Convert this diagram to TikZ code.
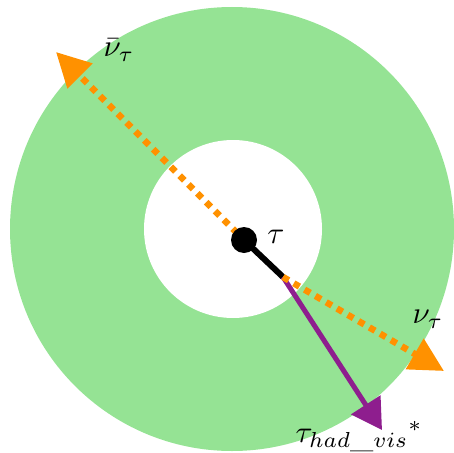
\documentclass[tikz,border=0pt]{standalone}
\usetikzlibrary{arrows.meta}
\definecolor{ringgreen}{RGB}{149,227,148}
\definecolor{nuorange}{RGB}{255,145,0}
\definecolor{vispurple}{RGB}{142,30,142}
\tikzset{
  nuline/.style={nuorange,line width=6.5pt,dash pattern=on 6.5pt off 6pt,
    -{Triangle[length=34pt,width=34pt,sep=0pt]}},
  visline/.style={vispurple,line width=5pt,-{Triangle[length=30pt,width=34pt]}},
  tauline/.style={black,line width=6pt},
  lbl/.style={scale=3.1,inner sep=0pt}
}
\begin{document}
\begin{tikzpicture}[x=1pt,y=-1pt]
\useasboundingbox (0,0) rectangle (454,452);
% ring and hole
\fill[ringgreen] (232,229) circle (222);
\fill[white] (233,229) circle (89);
% vertex and ends
\coordinate (tau) at (244,240);
\coordinate (split) at (283,277);
\coordinate (nubarend) at (56,52);
\coordinate (nuend) at (444,371);
\coordinate (visend) at (382,430);
\draw[tauline] (tau) -- (split);
\draw[visline] (split) -- (visend);
\draw[nuline,dash phase=3pt] (tau) -- (nubarend);
\draw[nuline] (split) -- (nuend);
\fill[black] (tau) circle (13);
% labels
\node[lbl] (taulbl) at (276,237) {$\tau$};
\node[lbl] (nubarlbl) at (119,50) {$\bar\nu_\tau$};
\node[lbl] (nulbl) at (428,319) {$\nu_\tau$};
\node[lbl,anchor=north west] (vislbl) at (295,421) {${\tau_{had\_vis}}^*$};
\end{tikzpicture}
\end{document}
